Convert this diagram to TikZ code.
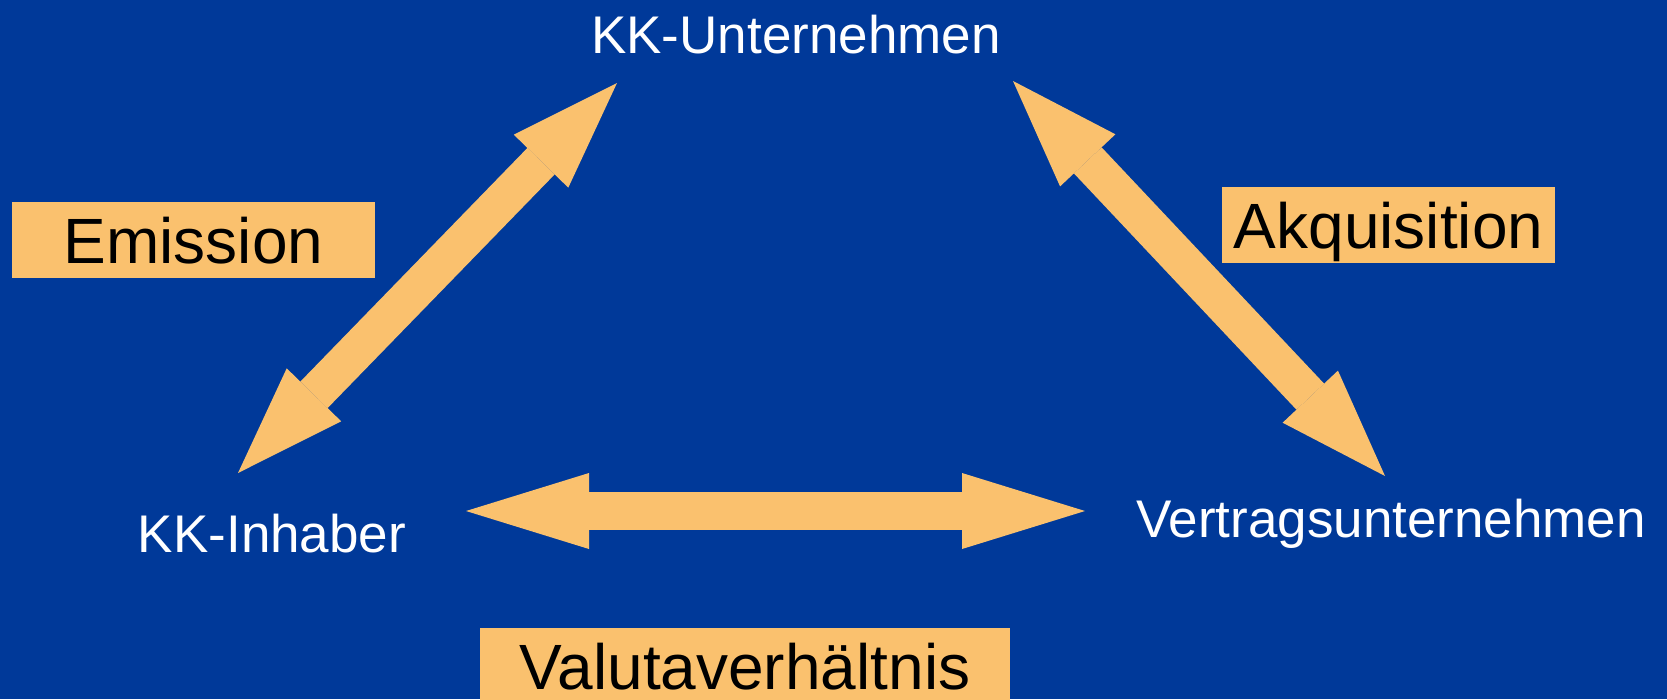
\documentclass[tikz,border=0pt]{standalone}
\usepackage{fontspec}
\setmainfont{Liberation Sans}
\usetikzlibrary{arrows.meta}
\definecolor{bgblue}{RGB}{0,57,153}
\definecolor{peach}{RGB}{250,193,110}
\begin{document}
\begin{tikzpicture}[x=1pt, y=-1pt,
		party/.style={text=white, inner sep=0pt, anchor=base, font=\fontsize{53}{60}\selectfont},
		tag/.style={fill=peach, text=black, inner sep=0pt, text height=46pt, text depth=0pt, minimum height=76pt, font=\fontsize{64}{72}\selectfont},
		diagarrow/.style={draw=peach, line width=38pt, arrows={Triangle[length=109pt,width=76pt,line width=0pt 0 0]-Triangle[length=109pt,width=76pt,line width=0pt 0 0]}},
		flatarrow/.style={draw=peach, line width=38pt, arrows={Triangle[length=123pt,width=76pt,line width=0pt 0 0]-Triangle[length=123pt,width=76pt,line width=0pt 0 0]}}]
			\useasboundingbox (0,0) rectangle (1667,699);
			\fill[bgblue] (0,0) rectangle (1667,699);
			\node[party] (unt) at (796,53) {KK-Unternehmen};
			\node[party] (inh) at (272,552) {KK-Inhaber};
			\node[party] (vtu) at (1391,537) {Vertragsunternehmen};
			\node[tag, minimum width=363pt] (emi) at (193.5,240) {Emission};
			\node[tag, minimum width=333pt] (akq) at (1388.5,225) {Akquisition};
			\node[tag, minimum width=530pt] (val) at (745,666) {Valutaverhältnis};
			\coordinate (inhtip) at (238,473);
			\coordinate (untleft) at (617,83);
			\coordinate (untright) at (1013,81);
			\coordinate (vtutip) at (1385,476);
			\coordinate (inhright) at (466,511);
			\coordinate (vtuleft) at (1085,511);
			\draw[diagarrow] (inhtip) -- (untleft);
			\draw[diagarrow] (untright) -- (vtutip);
			\draw[flatarrow] (inhright) -- (vtuleft);
		\end{tikzpicture}
\end{document}
